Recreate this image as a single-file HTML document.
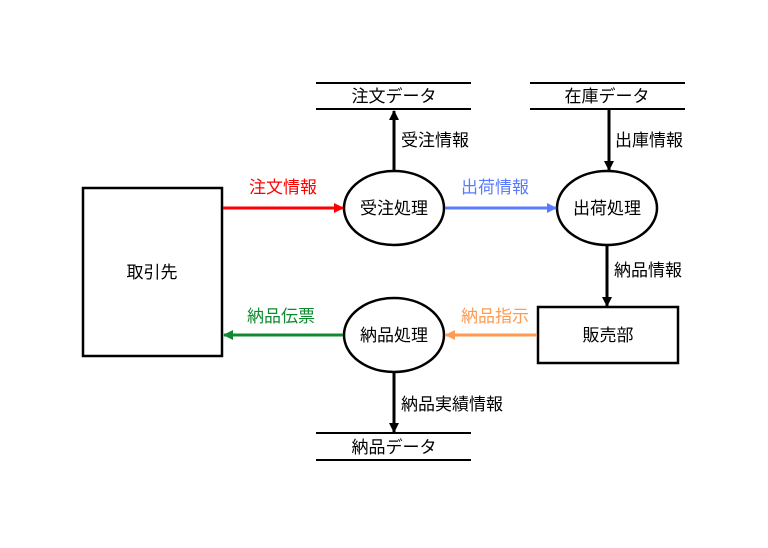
<!DOCTYPE html>
<html><head><meta charset="utf-8"><style>
html,body{margin:0;padding:0;background:#fff;}
svg text{font-family:"Liberation Sans","Noto Sans CJK JP",sans-serif;font-size:17px;}
</style></head><body>
<svg width="768" height="543" viewBox="0 0 768 543" xmlns="http://www.w3.org/2000/svg">
<defs>
<marker id="ak" markerWidth="10" markerHeight="10" refX="9" refY="5" orient="auto" markerUnits="userSpaceOnUse"><path d="M0,0 L10,5 L0,10 Z" fill="#000"/></marker>
<marker id="ar" markerWidth="10" markerHeight="10" refX="9" refY="5" orient="auto" markerUnits="userSpaceOnUse"><path d="M0,0 L10,5 L0,10 Z" fill="#f00"/></marker>
<marker id="ab" markerWidth="10" markerHeight="10" refX="9" refY="5" orient="auto" markerUnits="userSpaceOnUse"><path d="M0,0 L10,5 L0,10 Z" fill="#5b7bff"/></marker>
<marker id="ao" markerWidth="10" markerHeight="10" refX="9" refY="5" orient="auto" markerUnits="userSpaceOnUse"><path d="M0,0 L10,5 L0,10 Z" fill="#ff9a50"/></marker>
<marker id="ag" markerWidth="10" markerHeight="10" refX="9" refY="5" orient="auto" markerUnits="userSpaceOnUse"><path d="M0,0 L10,5 L0,10 Z" fill="#108a30"/></marker>
</defs>
<g stroke="#000" stroke-width="2">
<line x1="316" y1="83" x2="471" y2="83"/><line x1="316" y1="109" x2="471" y2="109"/>
<line x1="530" y1="83" x2="685" y2="83"/><line x1="530" y1="109" x2="685" y2="109"/>
<line x1="316" y1="433" x2="471" y2="433"/><line x1="316" y1="460" x2="471" y2="460"/>
<rect x="83" y="188" width="139" height="168" fill="none" stroke-width="2.5"/>
<rect x="538" y="307" width="140" height="56" fill="none" stroke-width="2.5"/>
<ellipse cx="394" cy="208" rx="50" ry="37" fill="none" stroke-width="2.5"/>
<ellipse cx="607" cy="208" rx="50" ry="37" fill="none" stroke-width="2.5"/>
<ellipse cx="394" cy="335" rx="50" ry="37" fill="none" stroke-width="2.5"/>
<line x1="394" y1="170" x2="394" y2="111" stroke-width="3" marker-end="url(#ak)"/>
<line x1="609" y1="109" x2="609" y2="170" stroke-width="3" marker-end="url(#ak)"/>
<line x1="607" y1="245" x2="607" y2="306" stroke-width="3" marker-end="url(#ak)"/>
<line x1="394" y1="372" x2="394" y2="432" stroke-width="3" marker-end="url(#ak)"/>
<line x1="223" y1="208" x2="343" y2="208" stroke="#f00" stroke-width="3" marker-end="url(#ar)"/>
<line x1="445" y1="208" x2="556" y2="208" stroke="#5b7bff" stroke-width="3" marker-end="url(#ab)"/>
<line x1="537" y1="335" x2="446" y2="335" stroke="#ff9a50" stroke-width="3" marker-end="url(#ao)"/>
<line x1="343" y1="335" x2="224" y2="335" stroke="#108a30" stroke-width="3" marker-end="url(#ag)"/>
</g>
<g text-anchor="middle" fill="#000">
<text x="394" y="102">注文データ</text>
<text x="607" y="102">在庫データ</text>
<text x="394" y="453">納品データ</text>
<text x="152" y="278">取引先</text>
<text x="608" y="341">販売部</text>
<text x="394" y="214">受注処理</text>
<text x="607" y="214">出荷処理</text>
<text x="394" y="341">納品処理</text>
</g>
<g fill="#000">
<text x="401" y="146">受注情報</text>
<text x="615" y="146">出庫情報</text>
<text x="614" y="276">納品情報</text>
<text x="401" y="410">納品実績情報</text>
</g>
<text x="249" y="193" fill="#f00">注文情報</text>
<text x="461" y="193" fill="#5b7bff">出荷情報</text>
<text x="461" y="322" fill="#ff9a50">納品指示</text>
<text x="247" y="322" fill="#108a30">納品伝票</text>
</svg>
</body></html>
